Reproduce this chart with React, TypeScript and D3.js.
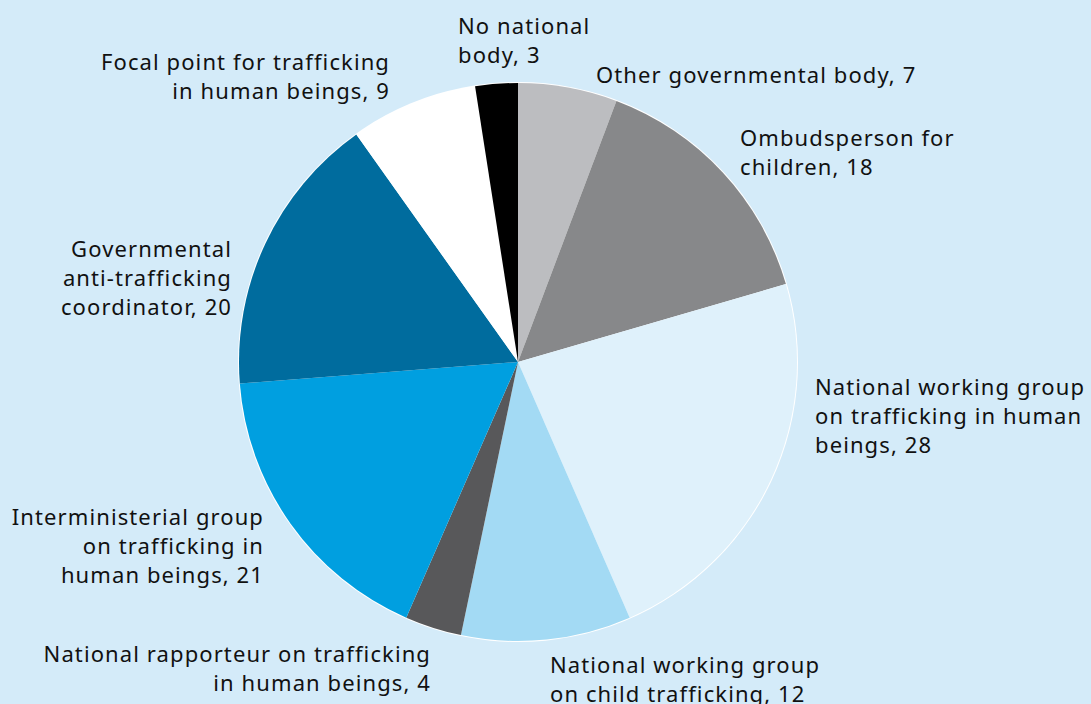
import React from "react";
import * as d3 from "d3";

const categories = [
  "Other governmental body",
  "Ombudsperson for children",
  "National working group on trafficking in human beings",
  "National working group on child trafficking",
  "National rapporteur on trafficking in human beings",
  "Interministerial group on trafficking in human beings",
  "Governmental anti-trafficking coordinator",
  "Focal point for trafficking in human beings",
  "No national body",
];
const values = [7, 18, 28, 12, 4, 21, 20, 9, 3];
const colors = [
  "#bcbdc0",
  "#87888a",
  "#dff1fb",
  "#a3daf4",
  "#58585a",
  "#009fe0",
  "#006c9e",
  "#ffffff",
  "#000000",
];
// label lines, as printed
const labelLines = [
  ["Other governmental body, 7"],
  ["Ombudsperson for", "children, 18"],
  ["National working group", "on trafficking in human", "beings, 28"],
  ["National working group", "on child trafficking, 12"],
  ["National rapporteur on trafficking", "in human beings, 4"],
  ["Interministerial group", "on trafficking in", "human beings, 21"],
  ["Governmental", "anti-trafficking", "coordinator, 20"],
  ["Focal point for trafficking", "in human beings, 9"],
  ["No national", "body, 3"],
];
// label anchor placement (x, first baseline, text-anchor)
const labelPos: [number, number, string][] = [
  [596, 83, "start"],
  [740, 146, "start"],
  [815, 395, "start"],
  [550, 673, "start"],
  [431, 662, "end"],
  [264, 525, "end"],
  [232, 257, "end"],
  [390, 70, "end"],
  [458, 34, "start"],
];

const W = 1091;
const H = 704;
const cx = 518;
const cy = 362;
const R = 279;
const LINE_H = 29;

export default function App() {
  const pie = d3.pie<number>().sort(null).value((d) => d)(values);
  const arc = d3.arc<d3.PieArcDatum<number>>().innerRadius(0).outerRadius(R);

  return (
    <svg
      width={W}
      height={H}
      style={{ position: "fixed", left: 0, top: 0, display: "block" }}
      fontFamily="'Noto Sans', sans-serif"
    >
      <rect width={W} height={H} fill="#d4ebf9" />
      <g transform={`translate(${cx},${cy})`}>
        <circle r={R + 1} fill="#ffffff" />
        {pie.map((p, i) => (
          <path key={categories[i]} d={arc(p) || ""} fill={colors[i]} />
        ))}
      </g>
      {labelLines.map((lines, i) => (
        <text
          key={i}
          x={labelPos[i][0]}
          y={labelPos[i][1]}
          textAnchor={labelPos[i][2] as any}
          fontSize={22}
          letterSpacing={1.1}
          fill="#111"
        >
          {lines.map((l, j) => (
            <tspan key={j} x={labelPos[i][0]} y={labelPos[i][1] + j * LINE_H}>
              {l}
            </tspan>
          ))}
        </text>
      ))}
    </svg>
  );
}
